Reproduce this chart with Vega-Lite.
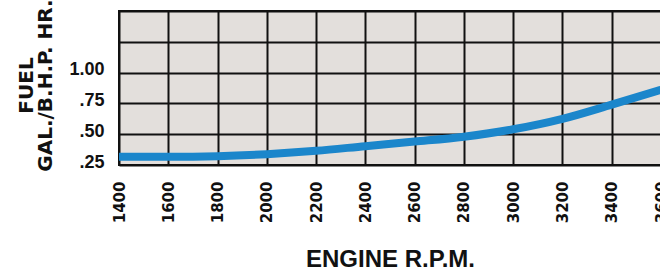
{
  "$schema": "https://vega.github.io/schema/vega-lite/v6.json",
  "autosize": {"type": "none"},
  "padding": {"left": 119, "top": 11, "right": 0, "bottom": 112},
  "width": 542,
  "height": 154,
  "background": "#ffffff",
  "config": {
    "view": {"fill": "#e3dfdc", "stroke": "#111111", "strokeWidth": 2}
  },
  "data": {
    "values": [
      {"rpm": 1400, "fuel": 0.317},
      {"rpm": 1600, "fuel": 0.317},
      {"rpm": 1800, "fuel": 0.322},
      {"rpm": 2000, "fuel": 0.338},
      {"rpm": 2200, "fuel": 0.365},
      {"rpm": 2400, "fuel": 0.403},
      {"rpm": 2600, "fuel": 0.44},
      {"rpm": 2800, "fuel": 0.48},
      {"rpm": 3000, "fuel": 0.54},
      {"rpm": 3200, "fuel": 0.625},
      {"rpm": 3400, "fuel": 0.74},
      {"rpm": 3600, "fuel": 0.86}
    ]
  },
  "mark": {"type": "line", "interpolate": "monotone", "color": "#1b86cb", "strokeWidth": 8, "strokeCap": "butt", "clip": true},
  "encoding": {
    "x": {
      "field": "rpm",
      "type": "quantitative",
      "scale": {"domain": [1400, 3600], "nice": false, "zero": false},
      "axis": {
        "values": [1400, 1600, 1800, 2000, 2200, 2400, 2600, 2800, 3000, 3200, 3400, 3600],
        "format": "d",
        "grid": true,
        "gridColor": "#111111",
        "gridWidth": 2,
        "gridOpacity": 1,
        "domain": false,
        "ticks": false,
        "labelAngle": -90,
        "labelAlign": "right",
        "labelBaseline": "middle",
        "labelPadding": 16,
        "labelFont": "DejaVu Sans",
        "labelFontWeight": "bold",
        "labelFontSize": 15,
        "labelColor": "#111111",
        "labelOverlap": false,
        "labelBound": false,
        "labelFlush": false,
        "title": "ENGINE R.P.M.",
        "titleFont": "Liberation Sans",
        "titleFontWeight": "bold",
        "titleFontSize": 24,
        "titleColor": "#111111",
        "titlePadding": 25
      }
    },
    "y": {
      "field": "fuel",
      "type": "quantitative",
      "scale": {"domain": [0.25, 1.5], "nice": false, "zero": false},
      "axis": {
        "values": [0.25, 0.5, 0.75, 1.0, 1.25, 1.5],
        "labelExpr": "datum.value > 1.1 ? '' : (datum.value >= 1 ? '1.00' : replace(format(datum.value, '.2f'), '0.', '.'))",
        "grid": true,
        "gridColor": "#111111",
        "gridWidth": 2,
        "gridOpacity": 1,
        "domain": false,
        "ticks": false,
        "labelPadding": 15,
        "labelOffset": -3,
        "labelFont": "Liberation Sans",
        "labelFontWeight": "bold",
        "labelFontSize": 18,
        "labelColor": "#111111",
        "labelBound": false,
        "labelFlush": false,
        "labelOverlap": false,
        "title": ["FUEL", "GAL./B.H.P. HR."],
        "titleFont": "DejaVu Sans",
        "titleFontWeight": "bold",
        "titleFontSize": 20,
        "titleLineHeight": 19,
        "titleColor": "#111111",
        "titleAngle": -90,
        "titleAlign": "center",
        "titleBaseline": "bottom",
        "titleX": -83,
        "titleY": 74
      }
    }
  }
}
